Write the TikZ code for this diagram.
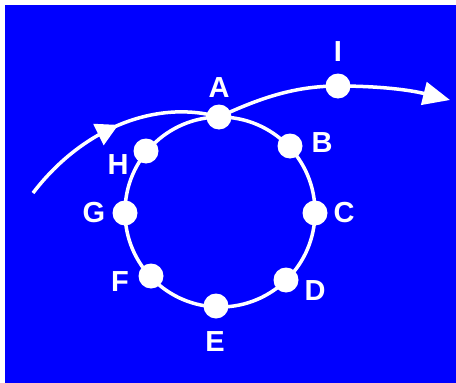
\documentclass[tikz,border=0pt]{standalone}
\usepackage{fontspec}
\setmainfont{Liberation Sans}
\usetikzlibrary{arrows.meta,decorations.markings}
\definecolor{bg}{RGB}{0,0,255}
\begin{document}
\begin{tikzpicture}[x=1pt,y=-1pt,
  dot/.style={circle,fill=white,draw=none,minimum size=25pt,inner sep=0pt},
  lab/.style={text=white,font=\fontsize{29}{29}\selectfont\bfseries,inner sep=0pt},
  ring/.style={draw=white,line width=3.5pt},
  flow/.style={draw=white,line width=3.5pt}]
\useasboundingbox (0,0) rectangle (456,383);
\fill[bg] (5,5) rectangle (456,383);
\coordinate (O) at (220,212);
\draw[ring] (O) circle (95);
\coordinate (S) at (33,193);
\coordinate (T) at (450,100);
\draw[flow,postaction={decorate},decoration={markings,
  mark=at position 0.47 with {\fill[white] (10pt,0) -- (-12pt,-12pt) -- (-12pt,12pt) -- cycle;}}]
  (S) .. controls (85,125) and (160,100) .. (219,117);
\draw[flow,-{Triangle[length=27pt,width=23pt]}]
  (219,117) .. controls (260,98) and (295,86) .. (338,86)
  .. controls (380,86) and (410,90) .. (T);
\node[dot] (A) at (219,117) {};
\node[dot] (B) at (290,146) {};
\node[dot] (C) at (315,213) {};
\node[dot] (D) at (286,280) {};
\node[dot] (E) at (216,306) {};
\node[dot] (F) at (151,276) {};
\node[dot] (G) at (125,213) {};
\node[dot] (H) at (146,151) {};
\node[dot] (I) at (338,86) {};
\node[lab] (lA) at (219,88) {A};
\node[lab] (lB) at (322,143) {B};
\node[lab] (lC) at (344,213) {C};
\node[lab] (lD) at (315,291) {D};
\node[lab] (lE) at (215,342) {E};
\node[lab] (lF) at (120,282) {F};
\node[lab] (lG) at (94,213) {G};
\node[lab] (lH) at (118,165) {H};
\node[lab] (lI) at (338,52) {I};
\end{tikzpicture}
\end{document}
